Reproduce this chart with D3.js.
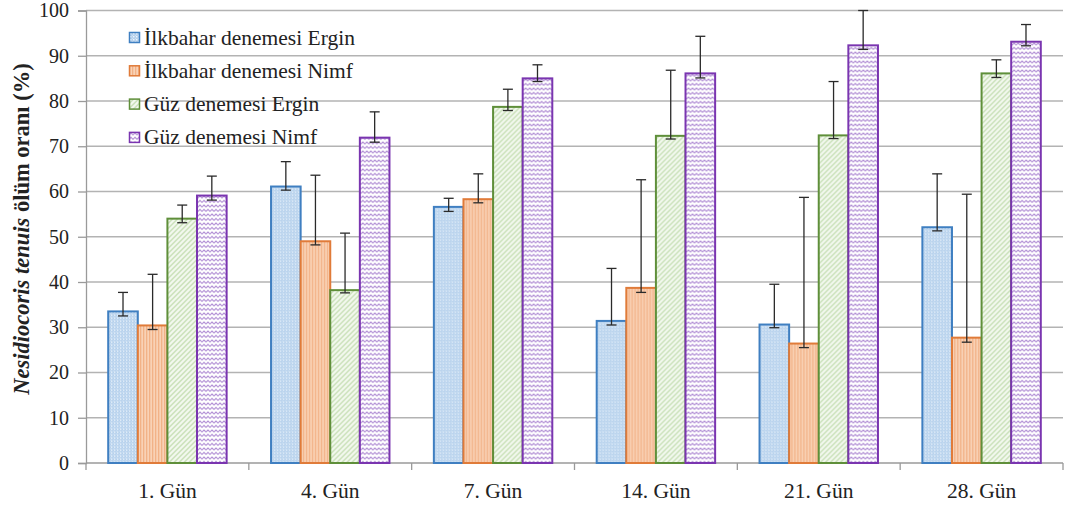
<!DOCTYPE html>
<html>
<head>
<meta charset="utf-8">
<script src="https://cdn.jsdelivr.net/npm/d3@7"></script>
<style>
  body { margin: 0; background: #fff; }
</style>
</head>
<body>
<div id="chart"></div>
<script>
// categories and series
const categories = ['1. Gün', '4. Gün', '7. Gün', '14. Gün', '21. Gün', '28. Gün'];
const seriesNames = ['İlkbahar denemesi Ergin', 'İlkbahar denemesi Nimf', 'Güz denemesi Ergin', 'Güz denemesi Nimf'];

// bar heights (%)
const ilkbaharErgin = [33.5, 61.1, 56.6, 31.4, 30.6, 52.1];
const ilkbaharNimf  = [30.4, 49.0, 58.3, 38.7, 26.4, 27.7];
const guzErgin      = [54.0, 38.2, 78.7, 72.3, 72.4, 86.1];
const guzNimf       = [59.1, 71.9, 85.0, 86.1, 92.3, 93.1];

// error bar ends (upper / lower)
const ilkbaharErginHi = [37.7, 66.6, 58.5, 43.0, 39.5, 63.9];
const ilkbaharErginLo = [32.5, 60.3, 55.6, 30.5, 29.9, 51.3];
const ilkbaharNimfHi  = [41.7, 63.6, 63.9, 62.6, 58.7, 59.4];
const ilkbaharNimfLo  = [29.5, 48.2, 57.5, 37.7, 25.5, 26.7];
const guzErginHi      = [57.0, 50.8, 82.6, 86.8, 84.3, 89.1];
const guzErginLo      = [53.1, 37.6, 77.9, 71.6, 71.7, 85.2];
const guzNimfHi       = [63.4, 77.6, 88.0, 94.3, 100, 96.9];
const guzNimfLo       = [58.1, 70.9, 84.3, 85.1, 91.4, 92.2];

const yTicks = [0, 10, 20, 30, 40, 50, 60, 70, 80, 90, 100];

const values = [ilkbaharErgin, ilkbaharNimf, guzErgin, guzNimf];
const hi = [ilkbaharErginHi, ilkbaharNimfHi, guzErginHi, guzNimfHi];
const lo = [ilkbaharErginLo, ilkbaharNimfLo, guzErginLo, guzNimfLo];

const strokes = ['#3f7fc1', '#e07b39', '#5f8f3a', '#7a35b0'];
const fills = ['url(#pBlue)', 'url(#pOrange)', 'url(#pGreen)', 'url(#pPurple)'];

const FONT = '"Liberation Serif", "Times New Roman", serif';
const W = 1067, H = 507;
const margin = { top: 10.5, right: 4, bottom: 44, left: 86 };
const innerW = W - margin.left - margin.right;
const innerH = H - margin.top - margin.bottom;

const svg = d3.select('#chart').append('svg')
  .attr('width', W)
  .attr('height', H)
  .attr('font-family', FONT);

svg.append('rect').attr('width', W).attr('height', H).attr('fill', '#fff');

// ---- fill patterns ----
const defs = svg.append('defs');

let p = defs.append('pattern').attr('id', 'pBlue')
  .attr('patternUnits', 'userSpaceOnUse').attr('width', 3).attr('height', 3);
p.append('rect').attr('width', 3).attr('height', 3).attr('fill', '#b4d0ec');
p.append('rect').attr('x', 1).attr('y', 1).attr('width', 1.4).attr('height', 1.4).attr('fill', '#eef5fc');
p.append('rect').attr('x', 0).attr('y', 0).attr('width', 0.8).attr('height', 0.8).attr('fill', '#dceaf7');

p = defs.append('pattern').attr('id', 'pOrange')
  .attr('patternUnits', 'userSpaceOnUse').attr('width', 3).attr('height', 3);
p.append('rect').attr('width', 3).attr('height', 3).attr('fill', '#f9d2b6');
p.append('rect').attr('x', 0).attr('width', 1.3).attr('height', 3).attr('fill', '#f2b287');

p = defs.append('pattern').attr('id', 'pGreen')
  .attr('patternUnits', 'userSpaceOnUse').attr('width', 5).attr('height', 5);
p.append('rect').attr('width', 5).attr('height', 5).attr('fill', '#f4f9f0');
p.append('path').attr('d', 'M-1,6 L6,-1 M-1,1 L1,-1 M4,6 L6,4')
  .attr('stroke', '#b9d7a3').attr('stroke-width', 1.1);

p = defs.append('pattern').attr('id', 'pPurple')
  .attr('patternUnits', 'userSpaceOnUse').attr('width', 8).attr('height', 4.5);
p.append('rect').attr('width', 8).attr('height', 4.5).attr('fill', '#ffffff');
p.append('path').attr('d', 'M0,3 L2,1 L4,3 L6,1 L8,3')
  .attr('fill', 'none').attr('stroke', '#a77fcf').attr('stroke-width', 1);

const g = svg.append('g').attr('transform', `translate(${margin.left},${margin.top})`);

// ---- scales ----
const x0 = d3.scaleBand().domain(categories).range([0, innerW]);
// Excel style: gap width 150% of a bar
const barW = x0.bandwidth() / (seriesNames.length + 1.5);
const x1 = d3.scaleBand().domain(d3.range(seriesNames.length))
  .range([barW * 0.75, barW * 0.75 + barW * seriesNames.length]);

const y = d3.scaleLinear().domain([0, 100]).range([innerH, 0]);

// ---- gridlines ----
g.append('g')
  .selectAll('line')
  .data(yTicks.filter(d => d > 0))
  .join('line')
  .attr('x1', 0).attr('x2', innerW)
  .attr('y1', d => y(d)).attr('y2', d => y(d))
  .attr('stroke', '#b3b3b3').attr('stroke-width', 1.3);

// ---- y axis ----
const yAxis = g.append('g')
  .call(d3.axisLeft(y).tickValues(yTicks).tickSize(8).tickPadding(9));
yAxis.attr('font-family', FONT);
yAxis.select('.domain').attr('stroke', '#9a9a9a').attr('stroke-width', 1.3);
yAxis.selectAll('.tick line').attr('stroke', '#9a9a9a').attr('stroke-width', 1.3);
yAxis.selectAll('.tick text')
  .attr('font-family', FONT)
  .attr('font-size', 20).attr('fill', '#222');

// ---- x axis ----
const xAxisG = g.append('g').attr('transform', `translate(0,${innerH})`);
xAxisG.append('line').attr('x1', 0).attr('x2', innerW)
  .attr('stroke', '#9a9a9a').attr('stroke-width', 1.3);
xAxisG.selectAll('line.tk')
  .data(categories.concat(['end']))
  .join('line')
  .attr('class', 'tk')
  .attr('x1', (d, i) => i * x0.step()).attr('x2', (d, i) => i * x0.step())
  .attr('y1', 0).attr('y2', 7)
  .attr('stroke', '#9a9a9a').attr('stroke-width', 1.3);
xAxisG.selectAll('text')
  .data(categories)
  .join('text')
  .attr('x', d => x0(d) + x0.bandwidth() / 2)
  .attr('y', 35)
  .attr('text-anchor', 'middle')
  .attr('font-family', FONT)
  .attr('font-size', 21.5).attr('fill', '#222')
  .text(d => d);

// ---- bars ----
const groups = g.append('g')
  .selectAll('g')
  .data(categories)
  .join('g')
  .attr('transform', d => `translate(${x0(d)},0)`);

groups.selectAll('rect')
  .data((d, ci) => values.map((s, si) => ({ si, v: s[ci] })))
  .join('rect')
  .attr('x', d => x1(d.si))
  .attr('y', d => y(d.v))
  .attr('width', x1.bandwidth())
  .attr('height', d => innerH - y(d.v))
  .attr('fill', d => fills[d.si])
  .attr('stroke', d => strokes[d.si])
  .attr('stroke-width', 2);

// ---- error bars ----
const capHalf = 5;
const eb = groups.selectAll('g.err')
  .data((d, ci) => values.map((s, si) => ({ si, hi: hi[si][ci], lo: lo[si][ci] })))
  .join('g')
  .attr('class', 'err')
  .attr('stroke', '#2a2a2a')
  .attr('stroke-width', 1.3);
eb.append('line')
  .attr('x1', d => x1(d.si) + x1.bandwidth() / 2)
  .attr('x2', d => x1(d.si) + x1.bandwidth() / 2)
  .attr('y1', d => y(d.hi)).attr('y2', d => y(d.lo));
eb.append('line')
  .attr('x1', d => x1(d.si) + x1.bandwidth() / 2 - capHalf)
  .attr('x2', d => x1(d.si) + x1.bandwidth() / 2 + capHalf)
  .attr('y1', d => y(d.hi)).attr('y2', d => y(d.hi));
eb.append('line')
  .attr('x1', d => x1(d.si) + x1.bandwidth() / 2 - capHalf)
  .attr('x2', d => x1(d.si) + x1.bandwidth() / 2 + capHalf)
  .attr('y1', d => y(d.lo)).attr('y2', d => y(d.lo));

// ---- legend ----
const legend = svg.append('g').attr('transform', 'translate(129,32)');
const li = legend.selectAll('g')
  .data(seriesNames)
  .join('g')
  .attr('transform', (d, i) => `translate(0,${i * 33.3})`);
li.append('rect')
  .attr('x', 0.5).attr('y', 0.5).attr('width', 10).attr('height', 10)
  .attr('fill', (d, i) => fills[i])
  .attr('stroke', (d, i) => strokes[i])
  .attr('stroke-width', 1.5);
li.append('text')
  .attr('x', 15).attr('y', 12.5)
  .attr('font-family', FONT)
  .attr('font-size', 21.5).attr('fill', '#222')
  .text(d => d);

// ---- y title ----
const yt = svg.append('text')
  .attr('transform', 'translate(29,229) rotate(-90)')
  .attr('text-anchor', 'middle')
  .attr('font-family', FONT)
  .attr('font-size', 22.5).attr('font-weight', 'bold').attr('fill', '#222');
yt.append('tspan').attr('font-style', 'italic').text('Nesidiocoris tenuis');
yt.append('tspan').text(' ölüm oranı (%)');
</script>
</body>
</html>
